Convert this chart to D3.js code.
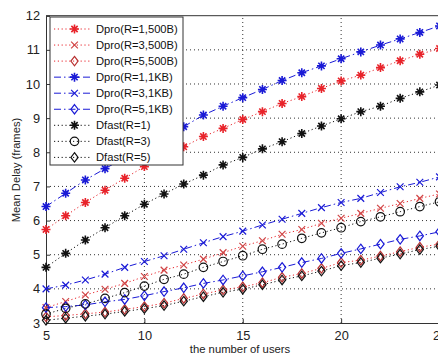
<!DOCTYPE html>
<html><head><meta charset="utf-8">
<script src="https://cdn.jsdelivr.net/npm/d3@7/dist/d3.min.js"></script>
<style>body{margin:0;background:#fff}svg{display:block;font-family:Arial,"Liberation Sans",sans-serif}</style>
</head><body><svg id="c" width="438" height="358"></svg>
<script>
const users = d3.range(5, 26);
const dpro1_500 = [5.74,6.14,6.53,6.89,7.24,7.58,7.87,8.16,8.46,8.70,8.96,9.19,9.43,9.63,9.87,10.09,10.26,10.48,10.68,10.87,11.04];
const dpro3_500 = [3.45,3.63,3.82,3.99,4.16,4.36,4.55,4.70,4.87,5.06,5.25,5.41,5.60,5.74,5.92,6.07,6.21,6.36,6.50,6.65,6.78];
const dpro5_500 = [3.18,3.22,3.27,3.32,3.40,3.48,3.58,3.72,3.85,3.97,4.06,4.18,4.34,4.45,4.60,4.77,4.84,4.96,5.09,5.22,5.31];
const dpro1_1k = [6.41,6.80,7.19,7.52,7.84,8.14,8.43,8.75,9.09,9.35,9.60,9.84,10.10,10.33,10.53,10.74,10.94,11.14,11.32,11.51,11.70];
const dpro3_1k = [4.00,4.11,4.26,4.43,4.63,4.80,4.97,5.16,5.35,5.53,5.69,5.87,6.04,6.21,6.38,6.53,6.65,6.82,6.99,7.12,7.28];
const dpro5_1k = [3.45,3.48,3.53,3.62,3.69,3.80,3.92,4.03,4.16,4.26,4.38,4.50,4.63,4.77,4.89,5.04,5.17,5.31,5.45,5.55,5.67];
const dfast1 = [4.63,5.04,5.43,5.79,6.14,6.48,6.78,7.07,7.33,7.63,7.85,8.10,8.31,8.55,8.77,8.98,9.19,9.35,9.58,9.77,9.97];
const dfast3 = [3.26,3.43,3.56,3.72,3.89,4.08,4.28,4.43,4.63,4.80,4.97,5.16,5.31,5.48,5.64,5.79,5.97,6.11,6.26,6.41,6.55];
const dfast5 = [3.08,3.14,3.20,3.26,3.34,3.42,3.51,3.64,3.77,3.90,3.99,4.12,4.26,4.38,4.52,4.68,4.77,4.90,5.02,5.15,5.25];
const seriesNames = ["Dpro(R=1,500B)","Dpro(R=3,500B)","Dpro(R=5,500B)","Dpro(R=1,1KB)","Dpro(R=3,1KB)","Dpro(R=5,1KB)","Dfast(R=1)","Dfast(R=3)","Dfast(R=5)"];
const xTicks = [5,10,15,20,25];
const yTicks = [3,4,5,6,7,8,9,10,11,12];
const xLabel = "the number of users";
const yLabel = "Mean Delay (frames)";

const RED = "#e8232a", RED2 = "#d04545", BLUE = "#1a1ad6", BLACK = "#111";
const styles = [
  {c:RED, lc:RED, m:"star", d:"1.2,2.6"},
  {c:RED2, lc:RED, m:"x", d:"1.2,2.6"},
  {c:"#b83030", lc:RED, m:"diamond", d:"1.2,2.6"},
  {c:BLUE, lc:BLUE, m:"star", d:"7,3,1.5,3"},
  {c:BLUE, lc:BLUE, m:"x", d:"7,3,1.5,3"},
  {c:BLUE, lc:BLUE, m:"diamond", d:"7,3,1.5,3"},
  {c:BLACK, lc:BLACK, m:"star", d:"1.2,2.6"},
  {c:BLACK, lc:BLACK, m:"circle", d:"1.2,2.6"},
  {c:BLACK, lc:BLACK, m:"diamond", d:"1.2,2.6"}
];
const allData = [dpro1_500,dpro3_500,dpro5_500,dpro1_1k,dpro3_1k,dpro5_1k,dfast1,dfast3,dfast5];

const svg = d3.select("#c");
const x = d3.scaleLinear().domain([5,25]).range([46,439.5]);
const y = d3.scaleLinear().domain([3,12]).range([323,15.7]);

// grid
const g = svg.append("g");
g.selectAll(".gy").data(yTicks.slice(1,-1)).join("line")
  .attr("x1",x(5)).attr("x2",x(25)).attr("y1",d=>y(d)).attr("y2",d=>y(d))
  .attr("stroke","#333").attr("stroke-width",1).attr("stroke-dasharray","1,3");
g.selectAll(".gx").data(xTicks.slice(1,-1)).join("line")
  .attr("y1",y(3)).attr("y2",y(12)).attr("x1",d=>x(d)).attr("x2",d=>x(d))
  .attr("stroke","#333").attr("stroke-width",1).attr("stroke-dasharray","1,3");

// axes
const yAxis = d3.axisLeft(y).tickValues(yTicks).tickSize(-4).tickPadding(6).tickFormat(d3.format("d"));
const xAxis = d3.axisBottom(x).tickValues(xTicks).tickSize(-4).tickPadding(8).tickFormat(d3.format("d"));
const ya = svg.append("g").attr("transform",`translate(${x(5)},0)`).call(yAxis);
const xa = svg.append("g").attr("transform",`translate(0,${y(3)})`).call(xAxis);
[ya,xa].forEach(a=>{a.select(".domain").attr("stroke","#333");a.selectAll(".tick line").attr("stroke","#333");
  a.selectAll("text").attr("font-size",12.8).attr("fill","#222").attr("font-family","Arial, Liberation Sans, sans-serif");});
svg.append("line").attr("x1",x(5)).attr("x2",x(25)).attr("y1",y(12)).attr("y2",y(12)).attr("stroke","#333");
svg.append("line").attr("x1",x(25)).attr("x2",x(25)).attr("y1",y(12)).attr("y2",y(3)).attr("stroke","#333");

// marker path
function marker(sel, type, color, s){
  const r = s/2;
  if(type==="star"){
    sel.append("path").attr("d",`M${-r},0H${r}M0,${-r}V${r}M${-r*0.7},${-r*0.7}L${r*0.7},${r*0.7}M${-r*0.7},${r*0.7}L${r*0.7},${-r*0.7}`)
      .attr("stroke",color).attr("stroke-width",1.6).attr("fill","none");
  } else if(type==="x"){
    const q=r*0.75;
    sel.append("path").attr("d",`M${-q},${-q}L${q},${q}M${-q},${q}L${q},${-q}`).attr("stroke",color).attr("stroke-width",1.2).attr("fill","none");
  } else if(type==="circle"){
    sel.append("circle").attr("r",r*0.95).attr("stroke",color).attr("stroke-width",1.2).attr("fill","none");
  } else {
    sel.append("path").attr("d",`M0,${-r*1.05}L${r*0.8},0L0,${r*1.05}L${-r*0.8},0Z`).attr("stroke",color).attr("stroke-width",1.2).attr("fill","none");
  }
}

const line = d3.line().x((d,i)=>x(users[i])).y(d=>y(d));
const plot = svg.append("g");
allData.forEach((vals,k)=>{
  const st = styles[k];
  plot.append("path").datum(vals).attr("d",line).attr("fill","none")
    .attr("stroke",st.lc).attr("stroke-width",1).attr("stroke-dasharray",st.d);
});
allData.forEach((vals,k)=>{
  const st = styles[k];
  plot.selectAll(null).data(vals).join("g")
    .attr("transform",(d,i)=>`translate(${x(users[i])},${y(d)})`)
    .each(function(){ marker(d3.select(this), st.m, st.c, 9); });
});

// legend
const lg = svg.append("g");
lg.append("rect").attr("x",50).attr("y",17).attr("width",133).attr("height",148)
  .attr("fill","#fff").attr("stroke","#333").attr("stroke-width",1);
seriesNames.forEach((nm,k)=>{
  const st = styles[k], yy = 29 + k*16.05;
  lg.append("line").attr("x1",54).attr("x2",92).attr("y1",yy).attr("y2",yy)
    .attr("stroke",st.lc).attr("stroke-width",1).attr("stroke-dasharray",st.d);
  const mg = lg.append("g").attr("transform",`translate(74.5,${yy})`);
  marker(mg, st.m, st.c, 9);
  lg.append("text").attr("x",96).attr("y",yy).attr("dy","0.36em").attr("font-size",11.2).attr("fill","#111").text(nm);
});

// axis labels
svg.append("text").attr("x",240).attr("y",353).attr("text-anchor","middle").attr("font-size",11.3).attr("fill","#222").text(xLabel);
svg.append("text").attr("transform","translate(20,170) rotate(-90)").attr("text-anchor","middle").attr("font-size",11.2).attr("fill","#222").text(yLabel);
</script></body></html>
